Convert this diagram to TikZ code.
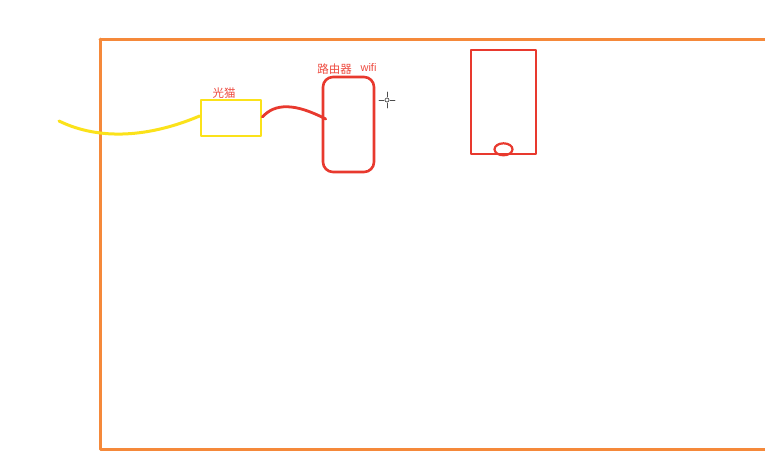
\documentclass[tikz,border=0pt]{standalone}
\usepackage{fontspec}
\newfontfamily\cjk{Noto Sans CJK SC}
\newfontfamily\latinsans{Liberation Sans}
\usetikzlibrary{positioning}
\definecolor{frameorange}{HTML}{F5893A}
\definecolor{cableyellow}{HTML}{FBE21A}
\definecolor{devred}{HTML}{E8392E}
\definecolor{labelred}{HTML}{EE4B40}

\begin{document}
\begin{tikzpicture}[x=1pt, y=-1pt, every node/.style={font=\cjk\fontsize{11.5}{13}\selectfont}, line cap=round, line join=round]
    \path[use as bounding box] (0,0) rectangle (765,456);
    \fill[white] (0,0) rectangle (765,456);
    \draw[frameorange, line width=3pt] (100,39) -- (780,39) (100,39) -- (100,449) -- (780,449);
    \coordinate (CableIn) at (59,121);
    \node[draw=cableyellow, line width=2.8pt, minimum width=60pt, minimum height=36pt, inner sep=0pt] (Modem) at (231,118) {};
    \node[labelred, above=-3pt of Modem, xshift=-7pt] {光猫};
    \node[draw=devred, line width=2.6pt, rounded corners=10pt, minimum width=51pt, minimum height=95pt, inner sep=0pt] (Router) at (348.5,124.5) {};
    \node[labelred, above=-2pt of Router.north, xshift=-14pt] {路由器};
    \node[labelred, font=\latinsans\fontsize{11}{13}\selectfont, above=1pt of Router.north, xshift=20pt] {wifi};
    \node[draw=devred, line width=2.6pt, minimum width=65pt, minimum height=104pt, inner sep=0pt] (Phone) at (503.5,102) {};
    \draw[devred, line width=2.2pt] (Phone.south) ++(0,-6) ellipse (9pt and 6pt);
    \draw[cableyellow, line width=3pt] (CableIn) .. controls (100,141) and (150,137) .. (Modem.west |- 0,116);
    \draw[devred, line width=2.8pt] (Modem.east |- 0,117) .. controls (275,103) and (295,103) .. ([xshift=4pt, yshift=5.5pt]Router.west);
    % cursor
    \coordinate (Cursor) at (387,100);
    \draw[black!70, line width=0.9pt] ([xshift=-8pt]Cursor) -- ([xshift=-3pt]Cursor) ([xshift=3pt]Cursor) -- ([xshift=8pt]Cursor) ([yshift=-8pt]Cursor) -- ([yshift=-3pt]Cursor) ([yshift=3pt]Cursor) -- ([yshift=8pt]Cursor);
    \draw[black!70, line width=0.7pt] (Cursor) circle (2pt);
\end{tikzpicture}
\end{document}
